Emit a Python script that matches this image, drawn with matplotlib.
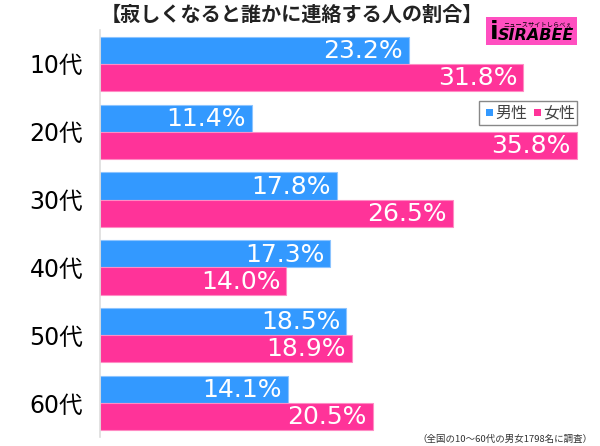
import matplotlib
matplotlib.use("Agg")
import matplotlib.pyplot as plt
from matplotlib.patches import Rectangle
import numpy as np

plt.rcParams['font.family'] = ['Noto Sans CJK JP', 'DejaVu Sans']

categories = ["10代", "20代", "30代", "40代", "50代", "60代"]
male = [23.2, 11.4, 17.8, 17.3, 18.5, 14.1]
female = [31.8, 35.8, 26.5, 14.0, 18.9, 20.5]
series_names = ["男性", "女性"]
title = "【寂しくなると誰かに連絡する人の割合】"
footnote = "（全国の10～60代の男女1798名に調査）"

blue = "#3399FF"
pink = "#FF3399"
num_font = ['DejaVu Sans', 'Noto Sans CJK JP']

W, H = 600, 446
fig = plt.figure(figsize=(W / 100, H / 100), dpi=100)
ax = fig.add_axes([100 / W, 1 - 437 / H, 490 / W, 407 / H])

y = np.arange(len(categories))
bh = 0.4
ax.barh(y - bh / 2, male, height=bh, color=blue, edgecolor="#8cc4ff", linewidth=0.8)
ax.barh(y + bh / 2, female, height=bh, color=pink, edgecolor="#ff8cc4", linewidth=0.8)

ax.set_xlim(0, 36.8)
ax.set_ylim(len(categories) - 0.5, -0.5)

for i, (m, f) in enumerate(zip(male, female)):
    ax.text(m - 0.45, i - bh / 2 + 0.01, f"{m:.1f}%", color="white", ha="right",
            va="center", fontsize=18, family=num_font)
    ax.text(f - 0.45, i + bh / 2 + 0.01, f"{f:.1f}%", color="white", ha="right",
            va="center", fontsize=18, family=num_font)

ax.set_yticks(y)
ax.set_yticklabels(categories, fontsize=17, family=num_font)
ax.tick_params(axis="y", length=0, pad=12)
ax.set_xticks([])
for s in ["top", "right", "bottom"]:
    ax.spines[s].set_visible(False)
ax.spines["left"].set_color("#dddddd")
ax.spines["left"].set_linewidth(1.2)

fig.text(0.487, 1 - 14 / H, title, ha="center", va="center", fontsize=14.5,
         fontweight="bold", color="#222222")

# legend
lax = fig.add_axes([0, 0, 1, 1], facecolor="none")
lax.set_xlim(0, W)
lax.set_ylim(H, 0)
lax.axis("off")
lax.add_patch(Rectangle((479, 101), 98, 24, facecolor="white", edgecolor="#888888", lw=1))
lax.add_patch(Rectangle((486, 109), 7, 7, facecolor=blue, edgecolor="none"))
lax.text(495, 113, series_names[0], fontsize=11.5, va="center", ha="left", color="#444444")
lax.add_patch(Rectangle((534, 109), 7, 7, facecolor=pink, edgecolor="none"))
lax.text(543, 113, series_names[1], fontsize=11.5, va="center", ha="left", color="#444444")

# logo
lax.add_patch(Rectangle((486, 17), 91, 28, facecolor="#ff4fc0", edgecolor="none"))
lax.text(572, 24, "ニュースサイトしらべぇ", fontsize=4.5, ha="right", va="center", color="black")
lax.text(574, 36, "SIRABEE", fontsize=11.5, ha="right", va="center", color="black",
         fontweight="bold", style="italic", family="DejaVu Sans")
lax.text(494, 32, "i", fontsize=18, ha="center", va="center", color="black", fontweight="bold",
         family="DejaVu Sans")

fig.text(593 / W, 1 - 439 / H, footnote, ha="right", va="center", fontsize=6.8, color="#333333")

fig.savefig("out.png", dpi=100)
